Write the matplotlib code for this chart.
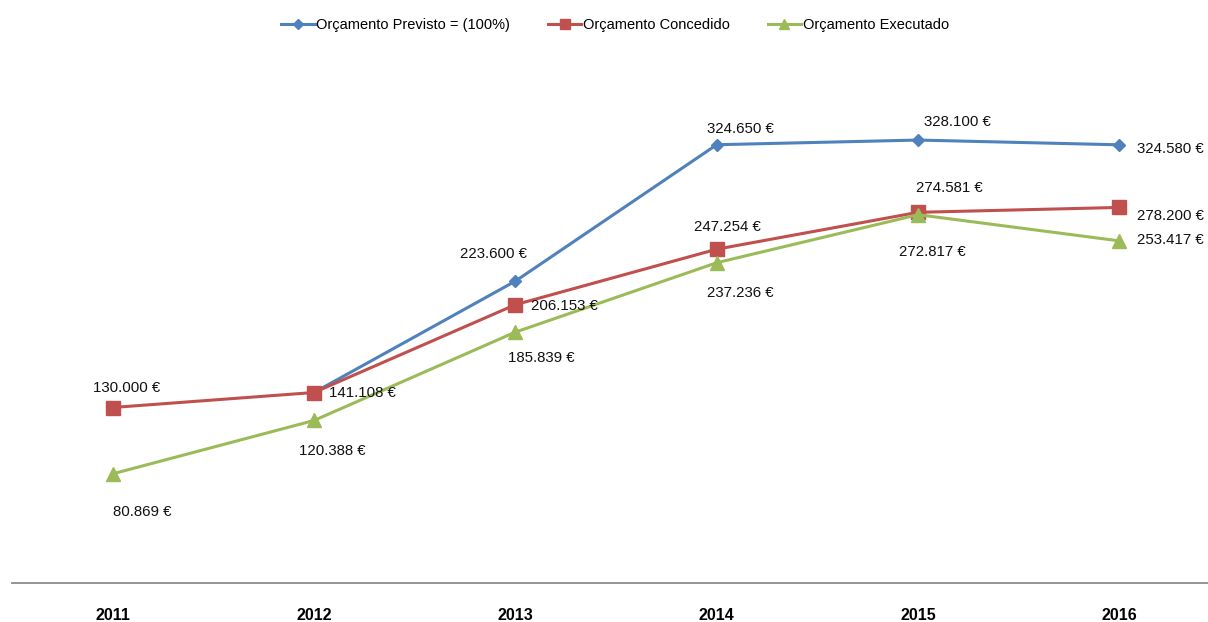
import matplotlib
matplotlib.use('Agg')
import matplotlib.pyplot as plt
import numpy as np

plt.rcParams['font.family'] = ['Liberation Sans', 'DejaVu Sans']

# Data
years = ['2011', '2012', '2013', '2014', '2015', '2016']
previsto = [np.nan, 141108, 223600, 324650, 328100, 324580]
concedido = [130000, 141108, 206153, 247254, 274581, 278200]
executado = [80869, 120388, 185839, 237236, 272817, 253417]

# label offsets in pixels (dx, dy); None = no label
off_previsto = [None, None, (-22, 27), (24, 16), (39, 18), (51, -4)]
off_concedido = [(14, 19), (48, 0), (49, -1), (11, 22), (31, 24), (51, -9)]
off_executado = [(30, -38), (18, -31), (26, -26), (24, -30), (14, -37), (51, 1)]


def fmt_eur(v):
    return f'{int(v):,}'.replace(',', '.') + ' €'


fig = plt.figure(figsize=(12.08, 6.22), dpi=100)
ax = fig.add_axes([12 / 1208, 39 / 622, 1196 / 1208, 540 / 622])

x = np.arange(len(years))
series = [
    ('Orçamento Previsto = (100%)', previsto, '#4F81BD', 'D', 6.5, off_previsto),
    ('Orçamento Concedido', concedido, '#C0504D', 's', 9.5, off_concedido),
    ('Orçamento Executado', executado, '#9BBB59', '^', 9.5, off_executado),
]

for name, vals, color, marker, ms, offs in series:
    ax.plot(x, vals, color=color, lw=2.2, marker=marker, markersize=ms,
            markeredgecolor=color, label=name, zorder=3)
    for xi, v, off in zip(x, vals, offs):
        if off is None or np.isnan(v):
            continue
        ax.annotate(fmt_eur(v), (xi, v), xytext=off, textcoords='offset pixels',
                    ha='center', va='center', fontsize=10.8, color='#111111', zorder=4)

ax.set_xlim(-0.5, 5.44)
ax.set_ylim(0, 400000)
ax.set_xticks(x)
ax.set_xticklabels(years, fontsize=11.5, fontweight='bold')
ax.tick_params(axis='x', length=0, pad=18)
ax.set_yticks([])
for s in ['top', 'left', 'right']:
    ax.spines[s].set_visible(False)
ax.spines['bottom'].set_color('#8c8c8c')
ax.spines['bottom'].set_linewidth(1.3)

leg = fig.legend(loc='center', bbox_to_anchor=(0.509, 1 - 25 / 622), ncol=3,
                 frameon=False, fontsize=10.5, handlelength=2.3, handletextpad=0.1,
                 columnspacing=2.6, markerscale=0.75)

fig.savefig('out.png', dpi=100)
